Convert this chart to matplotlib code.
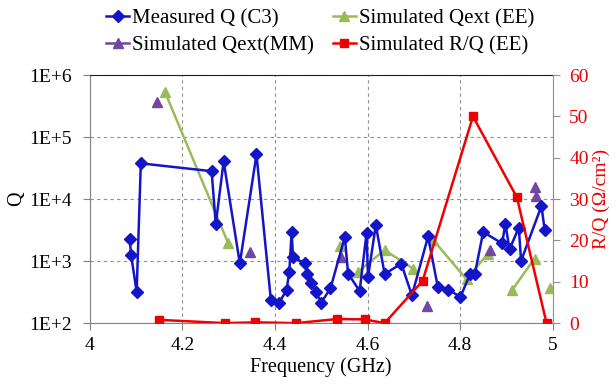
import numpy as np
import matplotlib
matplotlib.use("Agg")
import matplotlib.pyplot as plt
from matplotlib.lines import Line2D
from matplotlib.ticker import FuncFormatter, NullLocator

plt.rcParams['font.family'] = ['Liberation Serif', 'DejaVu Serif']

# Measured Q (C3)
meas_f = [4.086, 4.089, 4.101, 4.110, 4.263, 4.272, 4.289, 4.324, 4.360,
          4.391, 4.409, 4.425, 4.431, 4.436, 4.439, 4.464, 4.470, 4.477,
          4.488, 4.500, 4.520, 4.551, 4.558, 4.583, 4.598, 4.601, 4.618,
          4.637, 4.673, 4.696, 4.731, 4.752, 4.775, 4.801, 4.822, 4.832,
          4.850, 4.891, 4.898, 4.907, 4.927, 4.932, 4.976, 4.983]
meas_q = [2240, 1250, 320, 37700, 28200, 3950, 40700, 920, 52500,
          240, 215, 340, 680, 2950, 1150, 930, 620, 450,
          320, 215, 365, 2450, 630, 330, 2860, 550, 3800,
          620, 910, 280, 2500, 380, 345, 265, 630, 620,
          2950, 1930, 3980, 1550, 3470, 1010, 7760, 3160]

# Simulated Qext (EE) -- NaN separates unconnected groups
ee_f = [4.162, 4.299, np.nan, 4.540, np.nan, 4.580, 4.637, 4.698, np.nan,
        4.742, 4.814, 4.860, np.nan, 4.913, 4.961, np.nan, 4.994]
ee_q = [537000, 1930, np.nan, 1780, np.nan, 680, 1510, 760, np.nan,
        2190, 510, 1320, np.nan, 345, 1100, np.nan, 375]

# Simulated Qext (MM)
mm_f = [4.144, 4.346, 4.542, 4.728, 4.864, 4.963, 4.964]
mm_q = [372000, 1410, 1170, 186, 1510, 15500, 11200]

# Simulated R/Q (EE)
rq_f = [4.149, 4.293, 4.356, 4.445, 4.535, 4.594, 4.637, 4.719, 4.828, 4.923, 4.987]
rq_v = [0.8, 0.0, 0.2, 0.0, 1.0, 0.9, 0.0, 10.2, 50.0, 30.4, 0.0]

blue = '#1414C8'
green = '#9BBB59'
purple = '#7048A0'
red = '#F00000'

fig = plt.figure(figsize=(6.16, 3.87), dpi=100)
ax = fig.add_axes([0.146, 0.165, 0.751, 0.641])
ax2 = ax.twinx()

l_ee, = ax.plot(ee_f, ee_q, color=green, lw=1.8, marker='^', ms=7,
                label='Simulated Qext (EE)', zorder=3)
ax.plot(mm_f, mm_q, color=purple, lw=0, marker='^', ms=7, zorder=4)
l_me, = ax.plot(meas_f, meas_q, color=blue, lw=1.8, marker='D', ms=6,
                label='Measured Q (C3)', zorder=5)
l_rq, = ax2.plot(rq_f, rq_v, color=red, lw=1.8, marker='s', ms=6,
                 label='Simulated R/Q (EE)', zorder=6)
# legend entry for MM drawn like the others (line + marker)
l_mm = Line2D([], [], color=purple, lw=1.8, marker='^', ms=7, label='Simulated Qext(MM)')

ax.set_yscale('log')
ax.set_ylim(1e2, 1e6)
ax.set_xlim(4, 5)
ax.set_xticks([4, 4.2, 4.4, 4.6, 4.8, 5])
ax.set_xticklabels(['4', '4.2', '4.4', '4.6', '4.8', '5'])
ax.set_yticks([1e2, 1e3, 1e4, 1e5, 1e6])
ax.yaxis.set_major_formatter(FuncFormatter(lambda v, p: "1E+%d" % int(round(np.log10(v)))))
ax.yaxis.set_minor_locator(NullLocator())
ax.grid(True, which='major', color='#909090', ls=(0, (3, 3)), lw=0.8)
ax.set_axisbelow(True)

ax2.set_ylim(0, 60)
ax2.set_yticks(range(0, 61, 10))

for s in ['left', 'bottom']:
    ax.spines[s].set_color('#808080')
ax.spines['top'].set_color('#202020')
ax.spines['right'].set_visible(False)
for s in ['left', 'bottom', 'top']:
    ax2.spines[s].set_visible(False)
ax2.spines['right'].set_color('#909090')

ax.tick_params(axis='both', direction='out', length=5, width=0.8, color='#808080',
               labelsize=14, pad=5)
ax.tick_params(axis='y', pad=8)
ax2.tick_params(axis='y', direction='out', length=5, width=0.8, color='#909090',
                labelsize=14, labelcolor=red, pad=7)

ax.set_xlabel('Frequency (GHz)', fontsize=14.5, labelpad=2)
ax.set_ylabel('Q', fontsize=14.5, labelpad=2)
ax2.set_ylabel('R/Q (Ω/cm²)', fontsize=14, color=red, labelpad=3)

fig.legend(handles=[l_me, l_mm, l_ee, l_rq], ncol=2, loc='upper center',
           bbox_to_anchor=(0.52, 1.01), frameon=False, fontsize=15,
           handlelength=1.1, handletextpad=0.15, columnspacing=0.9,
           labelspacing=0.35, borderaxespad=0.2)

fig.savefig('out.png', dpi=100)
